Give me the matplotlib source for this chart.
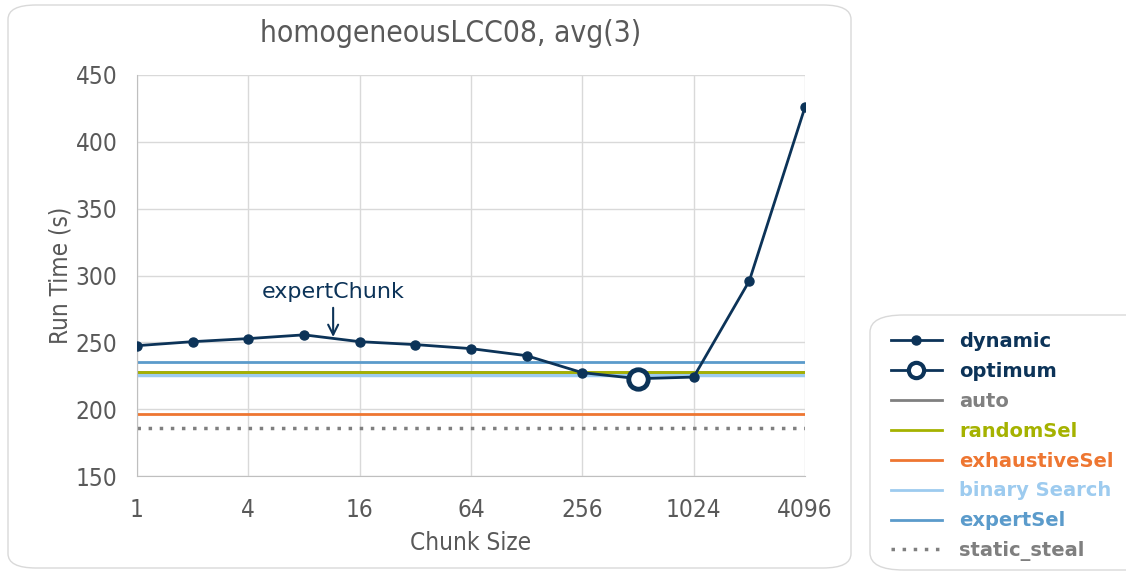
import matplotlib
matplotlib.use("Agg")
import matplotlib.pyplot as plt
from matplotlib.lines import Line2D
from matplotlib.patches import FancyBboxPatch

# ---- data ----
chunk_sizes = [1, 2, 4, 8, 16, 32, 64, 128, 256, 512, 1024, 2048, 4096]
dynamic = [247.5, 250.5, 252.8, 255.6, 250.5, 248.3, 245.3, 240.0, 227.3, 222.8, 224.0, 296.0, 426.0]
optimum_x = [512]
optimum_y = [222.8]
auto_val = 228.0
randomSel_val = 228.0
exhaustiveSel_val = 196.5
binarySearch_val = 225.5
expertSel_val = 235.6
static_steal_val = 186.0
expert_chunk = 11.5
expert_chunk_y = 254.0
x_ticks = [1, 4, 16, 64, 256, 1024, 4096]
y_ticks = [150, 200, 250, 300, 350, 400, 450]

C_DYN = "#0c3358"
C_AUTO = "#808080"
C_RAND = "#a5b200"
C_EXH = "#ee7631"
C_BIN = "#9dcbef"
C_EXP = "#5b9bcb"
C_STEAL = "#7f7f7f"
C_TXT = "#595959"

W, H = 1126, 573
fig = plt.figure(figsize=(W / 100, H / 100), dpi=100)

# outer frames
fig.patches.append(FancyBboxPatch((8 / W, 5 / H), (851 - 8) / W, (568 - 5) / H,
                                  boxstyle="round,pad=0,rounding_size=0.025",
                                  transform=fig.transFigure, facecolor="none",
                                  edgecolor="#d9d9d9", linewidth=1.0, zorder=-1))
fig.patches.append(FancyBboxPatch((870 / W, 3 / H), (1160 - 870) / W, (573 - 315 - 3) / H,
                                  boxstyle="round,pad=0,rounding_size=0.03",
                                  transform=fig.transFigure, facecolor="none",
                                  edgecolor="#d9d9d9", linewidth=1.0, zorder=-1))

ax = fig.add_axes([137 / W, 1 - 476 / H, (805 - 137) / W, (476 - 75) / H])
ax.patch.set_alpha(0)
ax.set_xscale("log", base=2)
ax.set_xlim(1, 4096)
ax.set_ylim(150, 450)
ax.set_xticks(x_ticks)
ax.set_xticklabels([str(v) for v in x_ticks])
ax.set_yticks(y_ticks)
ax.minorticks_off()
ax.grid(True, color="#d9d9d9", linewidth=1.0)
ax.set_axisbelow(True)
for s in ["top", "right"]:
    ax.spines[s].set_visible(False)
for s in ["left", "bottom"]:
    ax.spines[s].set_color("#bfbfbf")
ax.tick_params(length=0, labelsize=17.5, labelcolor=C_TXT)
ax.tick_params(axis="y", pad=14)
ax.tick_params(axis="x", pad=16)
for lab in ax.get_xticklabels() + ax.get_yticklabels():
    lab.set_fontstretch("condensed")

ax.axhline(static_steal_val, color=C_STEAL, linestyle=(0, (1, 2.2)), linewidth=2.5)
ax.axhline(exhaustiveSel_val, color=C_EXH, linewidth=2)
ax.axhline(binarySearch_val, color=C_BIN, linewidth=2.5)
ax.axhline(auto_val, color=C_AUTO, linewidth=2)
ax.axhline(randomSel_val, color=C_RAND, linewidth=2)
ax.axhline(expertSel_val, color=C_EXP, linewidth=2)
ax.plot(chunk_sizes, dynamic, color=C_DYN, linewidth=2, marker="o", markersize=6.5, zorder=5)
ax.plot(optimum_x, optimum_y, linestyle="none", marker="o", markersize=14,
        markerfacecolor="white", markeredgecolor=C_DYN, markeredgewidth=3.5, zorder=6)

ax.annotate("expertChunk", xy=(expert_chunk, expert_chunk_y), xytext=(expert_chunk, 280),
            ha="center", va="bottom", fontsize=16, color=C_DYN, family="DejaVu Sans",
            arrowprops=dict(arrowstyle="->", color=C_DYN, lw=1.5,
                            shrinkA=2, shrinkB=0, mutation_scale=18))

fig.text(451 / W, 1 - 34 / H, "homogeneousLCC08, avg(3)", ha="center", va="center",
         fontsize=21.5, color=C_TXT, fontstretch="condensed")
ax.set_xlabel("Chunk Size", fontsize=17.5, color=C_TXT, fontstretch="condensed", labelpad=6)
ax.set_ylabel("Run Time (s)", fontsize=17.5, color=C_TXT, fontstretch="condensed", labelpad=2)

handles = [
    Line2D([], [], color=C_DYN, linewidth=2, marker="o", markersize=6.5),
    Line2D([], [], color=C_DYN, linewidth=2, marker="o", markersize=11,
           markerfacecolor="white", markeredgewidth=3),
    Line2D([], [], color=C_AUTO, linewidth=2),
    Line2D([], [], color=C_RAND, linewidth=2),
    Line2D([], [], color=C_EXH, linewidth=2),
    Line2D([], [], color=C_BIN, linewidth=2),
    Line2D([], [], color=C_EXP, linewidth=2),
    Line2D([], [], color=C_STEAL, linewidth=2.5, linestyle=(0, (1, 2.2))),
]
labels = ["dynamic", "optimum", "auto", "randomSel", "exhaustiveSel",
          "binary Search", "expertSel", "static_steal"]
colors = [C_DYN, C_DYN, C_AUTO, C_RAND, C_EXH, C_BIN, C_EXP, C_STEAL]
leg = fig.legend(handles, labels, loc="upper left", bbox_to_anchor=(891 / W, 1 - 332 / H),
                 frameon=False,
                 prop=dict(size=14, weight="bold", family="DejaVu Sans"),
                 handlelength=2.6, handletextpad=0.9,
                 labelspacing=0.56, borderpad=0, borderaxespad=0)
for t, c in zip(leg.get_texts(), colors):
    t.set_color(c)

fig.savefig("out.png", dpi=100)
